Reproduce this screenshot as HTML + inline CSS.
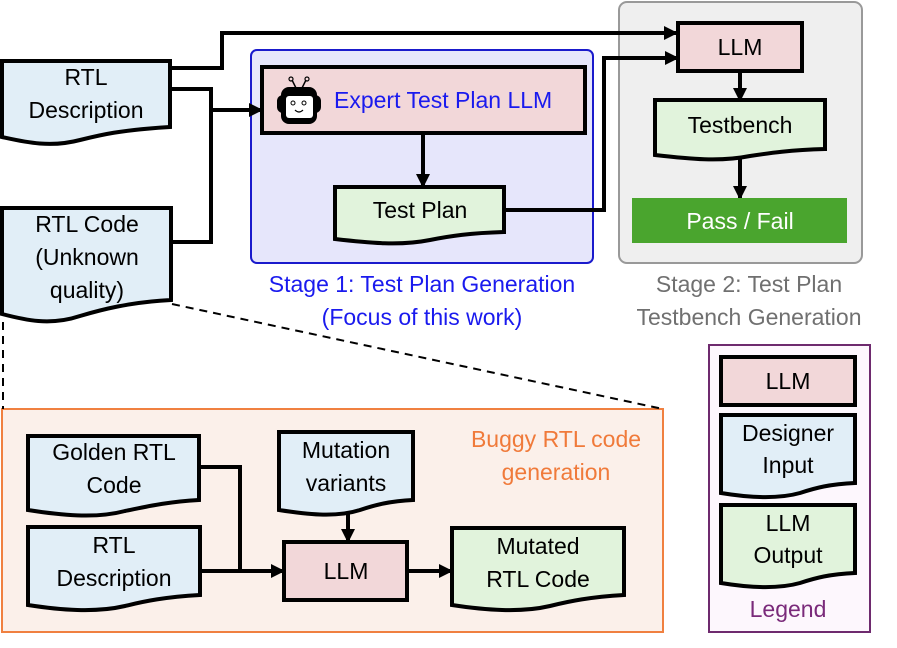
<!DOCTYPE html>
<html><head><meta charset="utf-8"><style>
html,body{margin:0;padding:0;background:#fff;}
svg text{font-family:"Liberation Sans",sans-serif;}
</style></head><body>
<svg width="897" height="643" viewBox="0 0 897 643" xmlns="http://www.w3.org/2000/svg">
<defs>
<marker id="ar" markerWidth="14" markerHeight="14" refX="12" refY="7" orient="auto" markerUnits="userSpaceOnUse">
<path d="M0,0 L14,7 L0,14 z" fill="#000"/></marker>
</defs>
<rect x="251" y="50" width="342" height="213" rx="6" fill="#e6e6fb" stroke="#1a1acc" stroke-width="2"/>
<rect x="619" y="2" width="243" height="261" rx="8" fill="#efefef" stroke="#999" stroke-width="2"/>
<rect x="2" y="409" width="661" height="223" fill="#fbf0ea" stroke="#f08040" stroke-width="2"/>
<rect x="709" y="345" width="161" height="287" fill="#fdf7fd" stroke="#6e2a6e" stroke-width="2"/>

<g stroke="#000" stroke-width="4" fill="none">
<polyline points="170,68 222,68 222,33 676,33" marker-end="url(#ar)"/>
<polyline points="170,89 211,89 211,242 171,242"/>
<line x1="211" y1="110" x2="261" y2="110" marker-end="url(#ar)"/>
<polyline points="504,210 604,210 604,58 677,58" marker-end="url(#ar)"/>
<line x1="423" y1="133" x2="423" y2="186" marker-end="url(#ar)"/>
<line x1="740" y1="71" x2="740" y2="100" marker-end="url(#ar)"/>
<line x1="740" y1="158" x2="740" y2="198" marker-end="url(#ar)"/>
<polyline points="199,467 240,467 240,571"/>
<line x1="200" y1="571" x2="283" y2="571" marker-end="url(#ar)"/>
<line x1="348" y1="513" x2="348" y2="541" marker-end="url(#ar)"/>
<line x1="407" y1="571" x2="451" y2="571" marker-end="url(#ar)"/>
</g>
<g stroke="#000" stroke-width="2" stroke-dasharray="8,6" fill="none">
<line x1="3" y1="322" x2="3" y2="409"/>
<line x1="172" y1="304" x2="663" y2="409"/>
</g>

<g stroke="#000" stroke-width="4">
<path d="M2,61 H170 V127 C120,130 100,135 80,140 C50,148 25,142 2,137 Z" fill="#e1eef7"/>
<path d="M2,208 H171 V300 C130,302 100,310 80,316 C50,326 25,320 2,314 Z" fill="#e1eef7"/>
<path d="M335,187 H504 V232 C470,233 450,236 430,240 C400,246 370,243 335,239 Z" fill="#e1f3dc"/>
<path d="M655,100 H825 V149 C790,150 770,153 750,156 C720,162 690,159 655,155 Z" fill="#e1f3dc"/>
<path d="M28,436 H199 V500 C165,502 145,507 125,511 C95,519 60,515 28,510 Z" fill="#e1eef7"/>
<path d="M28,527 H200 V595 C165,597 145,601 125,606 C95,613 60,610 28,605 Z" fill="#e1eef7"/>
<path d="M279,432 H413 V500 C390,501 375,505 360,510 C335,518 305,514 279,510 Z" fill="#e1eef7"/>
<path d="M452,528 H624 V595 C590,597 570,601 550,606 C520,613 485,610 452,605 Z" fill="#e1f3dc"/>
<path d="M721,415 H855 V483 C830,484 815,488 800,493 C775,500 745,497 721,493 Z" fill="#e1eef7"/>
<path d="M721,505 H855 V573 C830,574 815,578 800,583 C775,590 745,587 721,583 Z" fill="#e1f3dc"/>
<rect x="262" y="67" width="323" height="66" fill="#f2d7d9"/>
<rect x="678" y="23" width="124" height="48" fill="#f2d7d9"/>
<rect x="284" y="542" width="123" height="58" fill="#f2d7d9"/>
<rect x="721" y="357" width="134" height="48" fill="#f2d7d9"/>
</g>
<rect x="632" y="198" width="215" height="45" fill="#4aa52e"/>

<g>
<line x1="292" y1="80" x2="296" y2="88" stroke="#000" stroke-width="1.5"/>
<line x1="306" y1="80" x2="302" y2="88" stroke="#000" stroke-width="1.5"/>
<circle cx="291" cy="79" r="2" fill="none" stroke="#000" stroke-width="1.2"/>
<circle cx="307" cy="79" r="2" fill="none" stroke="#000" stroke-width="1.2"/>
<rect x="277" y="95" width="44" height="18" rx="6" fill="#000"/>
<rect x="281" y="87" width="36" height="37" rx="8" fill="#000"/>
<rect x="286" y="96" width="27" height="22" rx="3" fill="#fff"/>
<circle cx="293" cy="103" r="2" fill="none" stroke="#000" stroke-width="1"/>
<circle cx="304" cy="103" r="2" fill="none" stroke="#000" stroke-width="1"/>
<path d="M295,110 Q299,114 303,110" fill="none" stroke="#000" stroke-width="1.2"/>
</g>

<g font-size="23" text-anchor="middle" fill="#000">
<text x="86" y="85">RTL</text>
<text x="86" y="118">Description</text>
<text x="87" y="232">RTL Code</text>
<text x="87" y="265">(Unknown</text>
<text x="87" y="298">quality)</text>
<text x="420" y="218">Test Plan</text>
<text x="740" y="55">LLM</text>
<text x="740" y="133">Testbench</text>
<text x="740" y="229" fill="#fff">Pass / Fail</text>
<text x="114" y="460">Golden RTL</text>
<text x="114" y="493">Code</text>
<text x="114" y="553">RTL</text>
<text x="114" y="586">Description</text>
<text x="346" y="458">Mutation</text>
<text x="346" y="491">variants</text>
<text x="346" y="579">LLM</text>
<text x="538" y="554">Mutated</text>
<text x="538" y="587">RTL Code</text>
<text x="788" y="389">LLM</text>
<text x="788" y="441">Designer</text>
<text x="788" y="473">Input</text>
<text x="788" y="531">LLM</text>
<text x="788" y="563">Output</text>
</g>
<text x="334" y="108" font-size="23" fill="#1a1aee">Expert Test Plan LLM</text>
<g font-size="23" text-anchor="middle" fill="#1a1aee">
<text x="422" y="292">Stage 1: Test Plan Generation</text>
<text x="422" y="325">(Focus of this work)</text>
</g>
<g font-size="23" text-anchor="middle" fill="#707070">
<text x="749" y="292">Stage 2: Test Plan</text>
<text x="749" y="325">Testbench Generation</text>
</g>
<g font-size="23" text-anchor="middle" fill="#f07a3a">
<text x="556" y="447">Buggy RTL code</text>
<text x="556" y="480">generation</text>
</g>
<text x="788" y="617" font-size="23" text-anchor="middle" fill="#7a2a7a">Legend</text>
</svg>
</body></html>
